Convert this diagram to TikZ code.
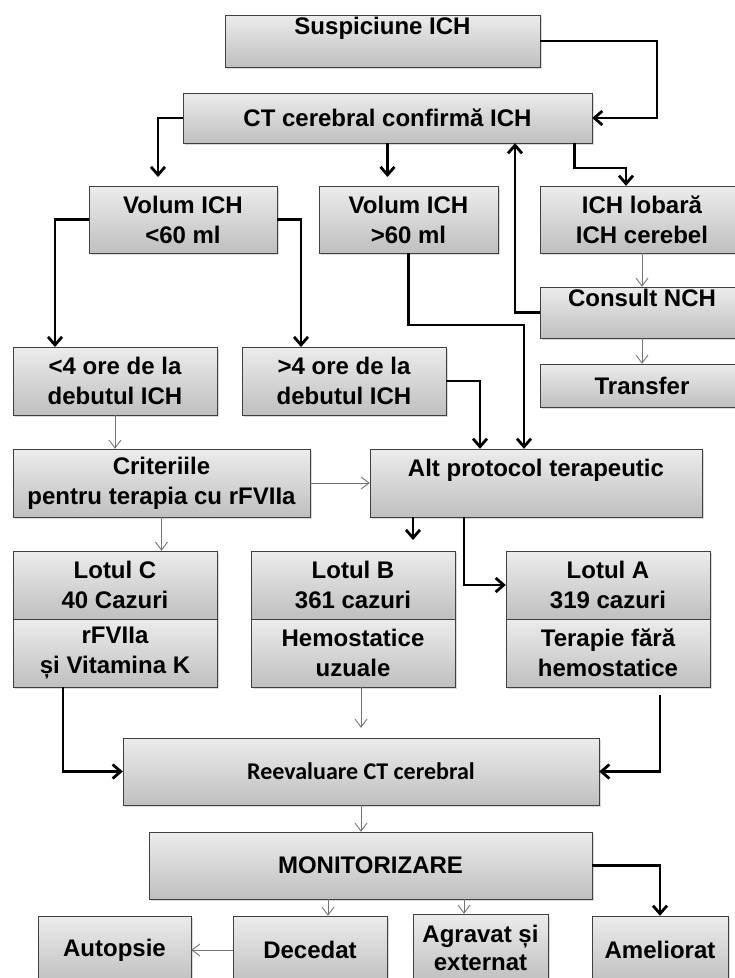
\documentclass[tikz,border=0pt]{standalone}
\usepackage{fontspec}
\setmainfont{Liberation Sans}
\newfontfamily\calibrifont{Carlito}
\usetikzlibrary{arrows.meta, shadows}
\tikzset{
box/.style={draw=black!75, top color=gray!15, bottom color=gray!50, drop shadow={shadow xshift=2pt, shadow yshift=-2pt, opacity=0.3}, inner sep=0pt, align=center, font=\fontsize{24}{30}\selectfont\bfseries}, % the grey boxes of the chart
dims/.style 2 args={minimum width=#1, minimum height=#2}, % width and height of a box
heavy/.style={line width=2.8pt, -{Straight Barb[length=8pt,width=14pt]}}, % the bold connectors
light/.style={line width=0.9pt, draw=black!55, -{Straight Barb[length=8pt,width=12pt]}}, % the grey connectors
}

\begin{document}
\begin{tikzpicture}[x=1pt, y=-1pt]
\useasboundingbox (0,0) rectangle (735,978);
\node[box, dims={315}{52}] (susp) at (382.5,41) {Suspiciune ICH\\~};
\node[box, dims={409}{50}] (ct) at (387.5,118) {CT cerebral confirmă ICH};
\node[box, dims={188}{67}] (vol1) at (183,219.5) {Volum ICH\\<60 ml};
\node[box, dims={179}{67}] (vol2) at (408.5,219.5) {Volum ICH\\>60 ml};
\node[box, dims={204}{67}] (lob) at (642,219.5) {ICH lobară\\ICH cerebel};
\node[box, dims={204}{51}] (nch) at (642,312.5) {Consult NCH\\~};
\node[box, dims={204}{43}] (transf) at (642,385.5) {Transfer};
\node[box, dims={204}{68}] (ore1) at (115,381) {<4 ore de la\\debutul ICH};
\node[box, dims={204}{68}] (ore2) at (344,381) {>4 ore de la\\debutul ICH};
\node[box, dims={297}{68}] (crit) at (161.5,483) {Criteriile\\pentru terapia cu rFVIIa};
\node[box, dims={332}{68}] (alt) at (536,483) {Alt protocol terapeutic\\~};
\node[box, dims={204}{68}] (lotC) at (115,585) {Lotul C\\40 Cazuri};
\node[box, dims={204}{68}] (lotCb) at (115,653) {rFVIIa\\și Vitamina K};
\node[box, dims={204}{68}] (lotB) at (353,585) {Lotul B\\361 cazuri};
\node[box, dims={204}{68}] (lotBb) at (353,653) {Hemostatice\\uzuale};
\node[box, dims={204}{68}] (lotA) at (608,585) {Lotul A\\319 cazuri};
\node[box, dims={204}{68}] (lotAb) at (608,653) {Terapie fără\\hemostatice};
\node[box, dims={476}{67}, font=\fontsize{24}{30}\selectfont\calibrifont\bfseries] (reev) at (361,771.5) {Reevaluare CT cerebral};
\node[box, dims={443}{67}] (mon) at (370.5,865.5) {MONITORIZARE};
\node[box, dims={153}{68}] (aut) at (114.5,950) {Autopsie};
\node[box, dims={154}{68}] (dec) at (310,950) {Decedat};
\node[box, dims={135}{68}, font=\fontsize{24}{28}\selectfont\bfseries] (agr) at (480.5,948) {Agravat și\\externat};
\node[box, dims={136}{68}] (amel) at (660,950) {Ameliorat};
% bend points of the connectors
\coordinate (k1) at (657,80);
\coordinate (k2) at (158,177);
\coordinate (k3) at (626,168);
\coordinate (k4) at (515,0);
\coordinate (k5) at (55,347);
\coordinate (k6) at (301,347);
\coordinate (k7) at (524,325);
\coordinate (k8) at (480,0);
\coordinate (k9) at (413,540);
\coordinate (k10) at (464,0);
\coordinate (k11) at (63,0);
\coordinate (k12) at (660,695);
\coordinate (k13) at (328,0);
\draw[heavy] (susp.east) -| (k1) |- (ct.east);
\draw[heavy] (ct.west) -| (k2);
\draw[heavy] (ct.south) -- (ct.south |- k2);
\draw[heavy] ([xshift=-18pt]ct.south east) |- (k3) -- (k3 |- lob.north);
\draw[light] (lob) -- (nch);
\draw[heavy] (nch.west) -| (ct.south -| k4);
\draw[light] (nch) -- (transf);
\draw[heavy] (vol1.west) -| (k5);
\draw[heavy] (vol1.east) -| (k6);
\draw[heavy] (vol2.south) |- (k7) -- (k7 |- alt.north);
\draw[heavy] (ore2.east) -| (alt.north -| k8);
\draw[light] (ore1.south) -- (ore1.south |- crit.north);
\draw[light] (crit.east) -- (alt.west);
\draw[light] (crit.south) -- (crit.south |- lotC.north);
\draw[heavy] (alt.south -| k9) -- (k9);
\draw[heavy] (alt.south -| k10) |- (lotA.west);
\draw[heavy] (lotCb.south -| k11) |- (reev.west);
\draw[light, shorten >=10pt] (reev.north |- lotBb.south) -- (reev.north);
\draw[heavy] (k12) |- (reev.east);
\draw[light] (reev.south) -- (reev.south |- mon.north);
\draw[light] (mon.south -| k13) -- (k13 |- dec.north);
\draw[light] (mon.south -| k10) -- (k10 |- agr.north);
\draw[heavy] (mon.east) -| (amel.north);
\draw[light] (dec.west) -- (aut.east);
\end{tikzpicture}
\end{document}
